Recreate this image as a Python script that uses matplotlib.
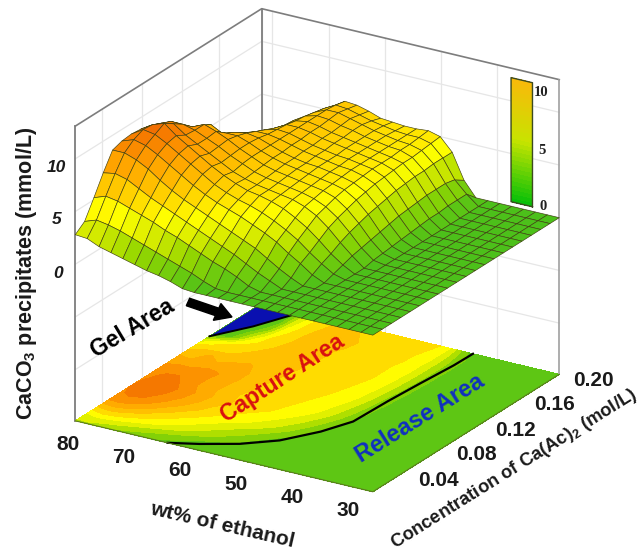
import numpy as np
import matplotlib
matplotlib.use('Agg')
import matplotlib.pyplot as plt
from matplotlib.colors import LinearSegmentedColormap
from matplotlib.patches import FancyArrow
from mpl_toolkits.mplot3d.art3d import Poly3DCollection

plt.rcParams['font.family'] = ['Liberation Sans', 'DejaVu Sans']
plt.rcParams['mathtext.fontset'] = 'custom'
plt.rcParams['mathtext.rm'] = 'Liberation Sans'
plt.rcParams['mathtext.bf'] = 'Liberation Sans:bold'

W, H = 643, 556

# axes values
conc = [0.00, 0.01, 0.02, 0.03, 0.04, 0.05, 0.06, 0.07, 0.08, 0.09, 0.10,
        0.11, 0.12, 0.13, 0.14, 0.15, 0.16, 0.17, 0.18, 0.19, 0.20]
ethanol = [30, 32, 34, 36, 38, 40, 42, 44, 46, 48, 50, 52, 54, 56, 58, 60,
           62, 64, 66, 68, 70, 72, 74, 76, 78, 80]

# CaCO3 precipitates, one row per concentration
flat = [0] * 7
precip = np.array([
    flat + [0, 0, 0, 0, 0, 0, 0, 0, 0, .1, .5, .8, 1.0, 1.3, 1.6, 1.9, 2.2, 2.7, 2.8],
    flat + [0, 0, 0, 0, 0, 0, 0, .1, .5, 1, 1.4, 1.8, 2.2, 2.6, 3, 3.4, 3.7, 3.9, 3.5],
    flat + [0, 0, 0, 0, 0, .3, .9, 1.4, 1.8, 2.3, 2.8, 3.3, 3.7, 4.2, 4.6, 5, 5.4, 5.6, 5.2],
    flat + [0, 0, 0, 0, .5, 1.0, 1.6, 2.2, 2.7, 3.2, 3.7, 4.2, 4.7, 5.2, 5.7, 6.3, 6.9, 7.2, 7],
    flat + [0, 0, 0, .5, 1.1, 1.8, 2.5, 3, 3.5, 4, 4.5, 5, 5.5, 6.1, 6.8, 7.6, 8.2, 8.6, 8.6],
    flat + [0, 0, .5, 1.3, 2, 2.8, 3.4, 3.9, 4.4, 4.8, 5.2, 5.7, 6.3, 7, 7.7, 8.4, 9, 9.3, 8.9],
    flat + [0, .3, 1, 1.8, 2.7, 3.4, 4, 4.5, 4.9, 5.2, 5.6, 6.1, 6.8, 7.5, 8.2, 8.9, 9.5, 9.7, 9.0],
    flat + [0, .6, 1.4, 2.4, 3.3, 4, 4.6, 5, 5.3, 5.5, 5.9, 6.4, 7, 7.7, 8.4, 9.1, 10, 9.6, 8.9],
    flat + [0, .9, 1.9, 3, 3.9, 4.5, 4.9, 5.1, 5.3, 5.5, 5.8, 6.2, 6.8, 7.4, 8, 8.6, 9.4, 9.2, 8.7],
    flat + [.2, 1.1, 2.3, 3.4, 4.2, 4.7, 5, 5.2, 5.4, 5.6, 5.9, 6.4, 6.9, 7.5, 8, 8.5, 8.8, 8.8, 8.3],
    flat + [.3, 1.3, 2.6, 3.7, 4.5, 4.9, 5.1, 5.3, 5.5, 5.7, 6, 6.5, 7, 7.6, 8.1, 8.5, 8, 8, 7.9],
    flat + [.4, 1.5, 2.9, 4, 4.7, 5, 5.2, 5.4, 5.6, 5.8, 6.1, 6.5, 7, 7.4, 7.4, 7.3, 7.6, 7, 7.2],
    flat + [.5, 1.7, 3.1, 4.2, 4.8, 5.1, 5.3, 5.5, 5.6, 5.8, 6.1, 6.5, 6.9, 7.1, 6.9, 6.5, 7.1, 6.7, 6.3],
    flat + [.6, 1.9, 3.3, 4.4, 4.9, 5.2, 5.3, 5.5, 5.7, 5.9, 6.2, 6.5, 6.7, 6.7, 6.3, 5.9, 5.6, 5.6, 5],
    flat + [.7, 2, 3.5, 4.5, 5, 5.2, 5.4, 5.5, 5.7, 5.9, 6.2, 6.5, 6.6, 6.3, 5.8, 5.4, 5, 4, 2.5],
    flat + [.8, 2.1, 3.6, 4.6, 5, 5.2, 5.4, 5.6, 5.8, 6, 6.3, 6.5, 6.5, 5.9, 5.3, 4.5, 2, 0, 0],
    flat + [.8, 2.2, 3.7, 4.7, 5, 5.2, 5.4, 5.6, 5.8, 6, 6.3, 6.5, 6.3, 5.6, 5, 3, 1.0, 0, 0],
    flat + [.9, 2.2, 3.7, 4.7, 5.1, 5.2, 5.4, 5.6, 5.9, 6.1, 6.4, 6.5, 6.2, 5.5, 4.4, 1.5, 0, 0, 0],
    flat + [.9, 2.2, 3.8, 4.8, 5.1, 5.2, 5.4, 5.6, 5.9, 6.2, 6.5, 6.5, 6, 5.2, 3.8, .8, 0, 0, 0],
    flat + [.9, 2, 3.8, 4.9, 5.2, 5.2, 5.3, 5.5, 5.7, 6, 6.3, 6.4, 5.8, 5, 3.4, .5, 0, 0, 0],
    flat + [0, 1.4, 3.8, 5, 5.3, 5.2, 5.2, 5.3, 5.4, 5.8, 6.1, 6.2, 5.5, 4.5, 3, .5, 0, 0, 0],
])

# area boundaries on the floor
release_c = [0.000, 0.008, 0.020, 0.036, 0.059, 0.081, 0.116, 0.148, 0.180, 0.200]
release_e = [64.5, 60.4, 55.5, 51.3, 48.0, 46.0, 45.7, 45.2, 44.6, 44.5]
gel_c = [0.144, 0.169, 0.193, 0.200, 0.200, 0.144]
gel_e = [80.0, 76.6, 74.2, 73.5, 80.0, 80.0]

# tick labels
ethanol_ticks = ['80', '70', '60', '50', '40', '30']
conc_ticks = ['0.04', '0.08', '0.12', '0.16', '0.20']
z_ticks = ['10', '5', '0']
cbar_ticks = ['10', '5', '0']

# wall grid
grid_c = [0.029, 0.072, 0.114, 0.154, 0.20]
grid_e = [40.5, 49.9, 59.3, 68.7, 78.2]
grid_z = [-10, -5, 0, 5, 10]

z_lo, z_hi = -14.86, 13.1

surface_cmap = LinearSegmentedColormap.from_list('surf', [
    (0.00, '#4cc01a'), (2 / 10.5, '#96d700'), (3.2 / 10.5, '#d7eb00'),
    (4.4 / 10.5, '#ffff00'), (5.5 / 10.5, '#ffdc00'), (6.5 / 10.5, '#ffc000'),
    (8 / 10.5, '#ffa000'), (9.5 / 10.5, '#f57800'), (1.00, '#e1500a')])
cbar_cmap = LinearSegmentedColormap.from_list('bar', ['#08c008', '#c8e400', '#fab80a'])

fig = plt.figure(figsize=(W / 100, H / 100), dpi=100)
ax = fig.add_axes([22 / W, 10.5 / H, 575 / W, 575 / H], projection='3d', proj_type='ortho')
ax.computed_zorder = False
ax.set_box_aspect((355, 348.6, 319))
ax.view_init(elev=22.8, azim=211.6)
ax.set_xlim(0, 0.2)
ax.set_ylim(30, 80)
ax.set_zlim(z_lo, z_hi)
ax.set_axis_off()

C, E = np.meshgrid(conc, ethanol, indexing='ij')

# walls
for c in grid_c:
    ax.plot([c, c], [80, 80], [z_lo, z_hi], color='#e6e6e6', lw=0.9, zorder=1)
for e in grid_e:
    ax.plot([0.2, 0.2], [e, e], [z_lo, z_hi], color='#e6e6e6', lw=0.9, zorder=1)
for z in grid_z:
    ax.plot([0, 0.2, 0.2], [80, 80, 30], [z, z, z], color='#e6e6e6', lw=0.9, zorder=1)

frame = '#7d7d7d'
ax.plot([0, 0.2, 0.2], [80, 80, 30], [z_hi, z_hi, z_hi], color=frame, lw=1.2, zorder=1)
ax.plot([0, 0], [80, 80], [z_lo, z_hi], color=frame, lw=1.3, zorder=1)
ax.plot([0.2, 0.2], [80, 80], [z_lo, z_hi], color=frame, lw=1.3, zorder=1)
ax.plot([0.2, 0.2], [30, 30], [z_lo, z_hi], color='#a0a0a0', lw=1.2, zorder=1)

# floor
ax.contourf(C, E, precip, levels=np.arange(0, 12), zdir='z', offset=z_lo,
            cmap=surface_cmap, vmin=0, vmax=10.5, zorder=2)
ax.add_collection3d(Poly3DCollection([list(zip(gel_c, gel_e, [z_lo] * len(gel_c)))],
                                     facecolor='#0a10b0', edgecolor='none', zorder=3))
ax.plot(gel_c[:4], gel_e[:4], z_lo, color='black', lw=1.4, zorder=4)
ax.plot(release_c, release_e, z_lo, color='black', lw=1.6, zorder=4)
ax.plot([0, 0, 0.2], [80, 30, 30], z_lo, color='#5a7a20', lw=0.8, zorder=4)

# colour bar painted on the back wall
bar_e = np.array([34.5, 38.1])
bar_z = np.linspace(0.43, 12.2, 30)
bar_E, bar_Z = np.meshgrid(bar_e, bar_z)
bar_C = np.full_like(bar_E, 0.2)
ax.plot_surface(bar_C, bar_E, bar_Z, facecolors=cbar_cmap((bar_Z[:-1, :-1] - 0.43) / 11.77),
                shade=False, linewidth=0, antialiased=False, rcount=30, ccount=2, zorder=5)
ax.plot([0.2] * 5, [34.5, 38.1, 38.1, 34.5, 34.5], [0.43, 0.43, 12.2, 12.2, 0.43],
        color='#3c4a20', lw=1.0, zorder=6)

# surface
ax.plot_surface(C, E, precip, rcount=21, ccount=26, cmap=surface_cmap, vmin=0, vmax=10.5,
                shade=False, edgecolor='#3f3f10', linewidth=0.45, zorder=7)


def px(x, y):
    return x / W, 1 - y / H


def label(x, y, s, **kw):
    fig.text(*px(x, y), s, ha='center', va='center', rotation_mode='anchor', **kw)


# tick labels
for i, s in enumerate(ethanol_ticks):
    label(68 + 56 * i, 444 + 13.4 * i, s, fontsize=15, fontweight='bold', color='#1a1a1a')
for i, s in enumerate(conc_ticks):
    label(438 + 38.8 * i, 480 - 25 * i, s, fontsize=15, fontweight='bold', color='#1a1a1a')
for i, s in enumerate(z_ticks):
    label(56 + i, 167 + 53 * i, s, fontsize=12.5, fontweight='bold', fontstyle='italic', color='#1a1a1a')
for i, s in enumerate(cbar_ticks):
    label(541 + i, 93 + 57 * i, s, fontsize=10.5, fontweight='bold', family=['Liberation Serif'], color='#222222')

# axis titles
label(27, 273, r'CaCO$_{\mathbf{3}}$ precipitates (mmol/L)', fontsize=15.5, fontweight='bold',
      rotation=90, color='#1a1a1a')
label(222, 525, 'wt% of ethanol', fontsize=15, fontweight='bold', rotation=-13, color='#1a1a1a')
label(514, 469, r'Concentration of Ca(Ac)$_{\mathbf{2}}$ (mol/L)', fontsize=13.2, fontweight='bold',
      rotation=32, color='#1a1a1a')

# areas
label(133, 328, 'Gel Area', fontsize=16.5, fontweight='bold', rotation=31, color='black')
label(282, 379, 'Capture Area', fontsize=16.5, fontweight='bold', rotation=33, color='#d81010')
label(420, 418, 'Release Area', fontsize=17, fontweight='bold', rotation=32, color='#1030c0')

arrow = FancyArrow(188 / W, 1 - 302 / H, 44 / W, -15 / H, width=8 / H, head_width=18 / H,
                   head_length=16 / W, length_includes_head=True, color='black',
                   transform=fig.transFigure)
fig.add_artist(arrow)

fig.savefig('out.png', dpi=100, facecolor='white')
